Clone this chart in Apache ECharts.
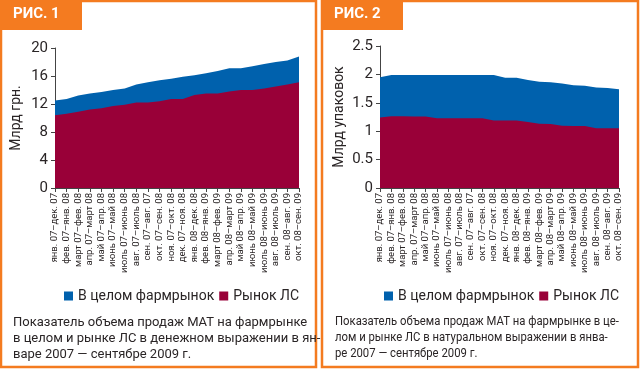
<!DOCTYPE html>
<html><head><meta charset="utf-8">
<script src="https://cdn.jsdelivr.net/npm/echarts@6/dist/echarts.min.js"></script>
<style>html,body{margin:0;padding:0;background:#fff}#c{width:640px;height:375px}</style>
</head><body><div id="c"></div>
<script>
const categories = ["янв. 07–дек. 07","фев. 07–янв. 08","март 07–фев. 08","апр. 07–март 08","май 07–апр. 08","июнь 07–май 08","июль 07–июнь 08","авг. 07–июль 08","сен. 07–авг. 07","окт. 07–сен. 08","ноя. 07–окт. 08","дек. 07–ноя. 08","янв. 08–дек. 08","фев. 08–янв. 09","март 08–фев. 09","апр. 08–март 09","май 08–апр. 09","июнь 08–май 09","июль 08–июнь 09","авг. 08–июль 09","сен. 08–авг. 09","окт. 08–сен. 09"];
const seriesNames = ["В целом фармрынок", "Рынок ЛС"];
const money_total = [12.5,12.7,13.2,13.5,13.7,14.0,14.2,14.8,15.1,15.4,15.6,15.9,16.1,16.4,16.7,17.1,17.1,17.4,17.7,18.0,18.2,18.8];
const money_ls    = [10.4,10.6,10.9,11.2,11.4,11.7,11.9,12.2,12.2,12.4,12.7,12.7,13.3,13.5,13.5,13.8,14.0,14.0,14.2,14.5,14.8,15.1];
const units_total = [1.95,1.99,1.99,1.99,1.99,1.99,1.99,1.99,1.99,1.99,1.99,1.94,1.94,1.90,1.87,1.86,1.84,1.81,1.80,1.77,1.76,1.74];
const units_ls    = [1.24,1.265,1.265,1.26,1.26,1.23,1.23,1.23,1.23,1.23,1.19,1.19,1.19,1.16,1.13,1.125,1.095,1.09,1.09,1.05,1.05,1.05];
const yTicks1 = [0,4,8,12,16,20];
const yTicks2 = [0,0.5,1,1.5,2,2.5];
const figTitles = ["РИС. 1","РИС. 2"];
const yNames = ["Млрд грн.","Млрд упаковок"];
const captions1 = ["Показатель объема продаж МАТ на фармрынке","в целом и рынке ЛС в денежном выражении в ян-","варе 2007 — сентябре 2009 г."];
const captions2 = ["Показатель объема продаж МАТ на фармрынке в це-","лом и рынке ЛС в натуральном выражении в янва-","ре 2007 — сентябре 2009 г."];

const BLUE = '#0061ad', RED = '#990038', ORANGE = '#f47b20', TXT = '#2a2526';
const FONT = "Roboto,sans-serif";
const chart = echarts.init(document.getElementById('c'), null, {renderer:'canvas'});

function xAxis(gi){
  return {type:'category', gridIndex:gi, data:categories, boundaryGap:false,
    axisLine:{lineStyle:{color:'#444',width:1}},
    axisTick:{show:true, alignWithLabel:true, length:4, lineStyle:{color:'#444'}, interval:0},
    axisLabel:{rotate:90, interval:0, fontSize:9.5, color:TXT, fontFamily:FONT, margin:5}};
}
function yAxis(gi, ticks, name, gap){
  return {type:'value', gridIndex:gi, min:ticks[0], max:ticks[ticks.length-1], interval:ticks[1]-ticks[0],
    name:name, nameLocation:'middle', nameGap:gap, nameTextStyle:{fontSize:14, color:TXT, fontFamily:FONT},
    axisLine:{show:true, lineStyle:{color:'#444',width:1}},
    axisTick:{show:true, length:4, lineStyle:{color:'#444'}},
    splitLine:{show:false},
    axisLabel:{fontSize:15, color:TXT, fontFamily:FONT, margin:7}};
}
function area(name, data, color, gi){
  return {type:'line', name:name, xAxisIndex:gi, yAxisIndex:gi, data:data, symbol:'none',
    lineStyle:{width:0, color:color}, itemStyle:{color:color}, areaStyle:{color:color, opacity:1}, silent:true, animation:false};
}
function captionText(lines, x, y0, sx){
  return lines.map((t,i)=>({type:'text', x:x, y:y0+i*16.2, scaleX:sx, style:{text:t, fontSize:13, fill:TXT, fontFamily:"Roboto,sans-serif"}}));
}
function frame(x0, x1){
  return [
    {type:'rect', shape:{x:x0+1, y:1, width:x1-x0-2, height:366}, style:{fill:'none', stroke:ORANGE, lineWidth:2.5}},
    {type:'rect', shape:{x:x0, y:0, width:82, height:30}, style:{fill:ORANGE}},
  ];
}
const graphics = [].concat(
  frame(0, 317), frame(321, 639),
  [{type:'text', left:13, top:7, style:{text:figTitles[0], fontSize:15, fontWeight:'bold', fill:'#fff', fontFamily:"Roboto,sans-serif"}},
   {type:'text', left:334, top:7, style:{text:figTitles[1], fontSize:15, fontWeight:'bold', fill:'#fff', fontFamily:"Roboto,sans-serif"}}],
  captionText(captions1, 13, 316, 1), captionText(captions2, 335, 315, 0.87)
);

chart.setOption({
  animation:false,
  grid:[{left:55, top:48, width:244, height:140}, {left:380, top:46, width:239, height:142}],
  xAxis:[xAxis(0), xAxis(1)],
  yAxis:[yAxis(0, yTicks1, yNames[0], 32), yAxis(1, yTicks2, yNames[1], 34)],
  legend:[
    {left:59, top:284, itemWidth:9, itemHeight:9, itemGap:5, icon:'rect', data:seriesNames, textStyle:{fontSize:14, color:TXT, fontFamily:FONT}, selectedMode:false},
    {left:379, top:284, itemWidth:9, itemHeight:9, itemGap:5, icon:'rect', data:seriesNames, textStyle:{fontSize:14, color:TXT, fontFamily:FONT}, selectedMode:false}
  ],
  series:[
    area(seriesNames[0], money_total, BLUE, 0), area(seriesNames[1], money_ls, RED, 0),
    area(seriesNames[0], units_total, BLUE, 1), area(seriesNames[1], units_ls, RED, 1)
  ],
  graphic:graphics
});
</script></body></html>
